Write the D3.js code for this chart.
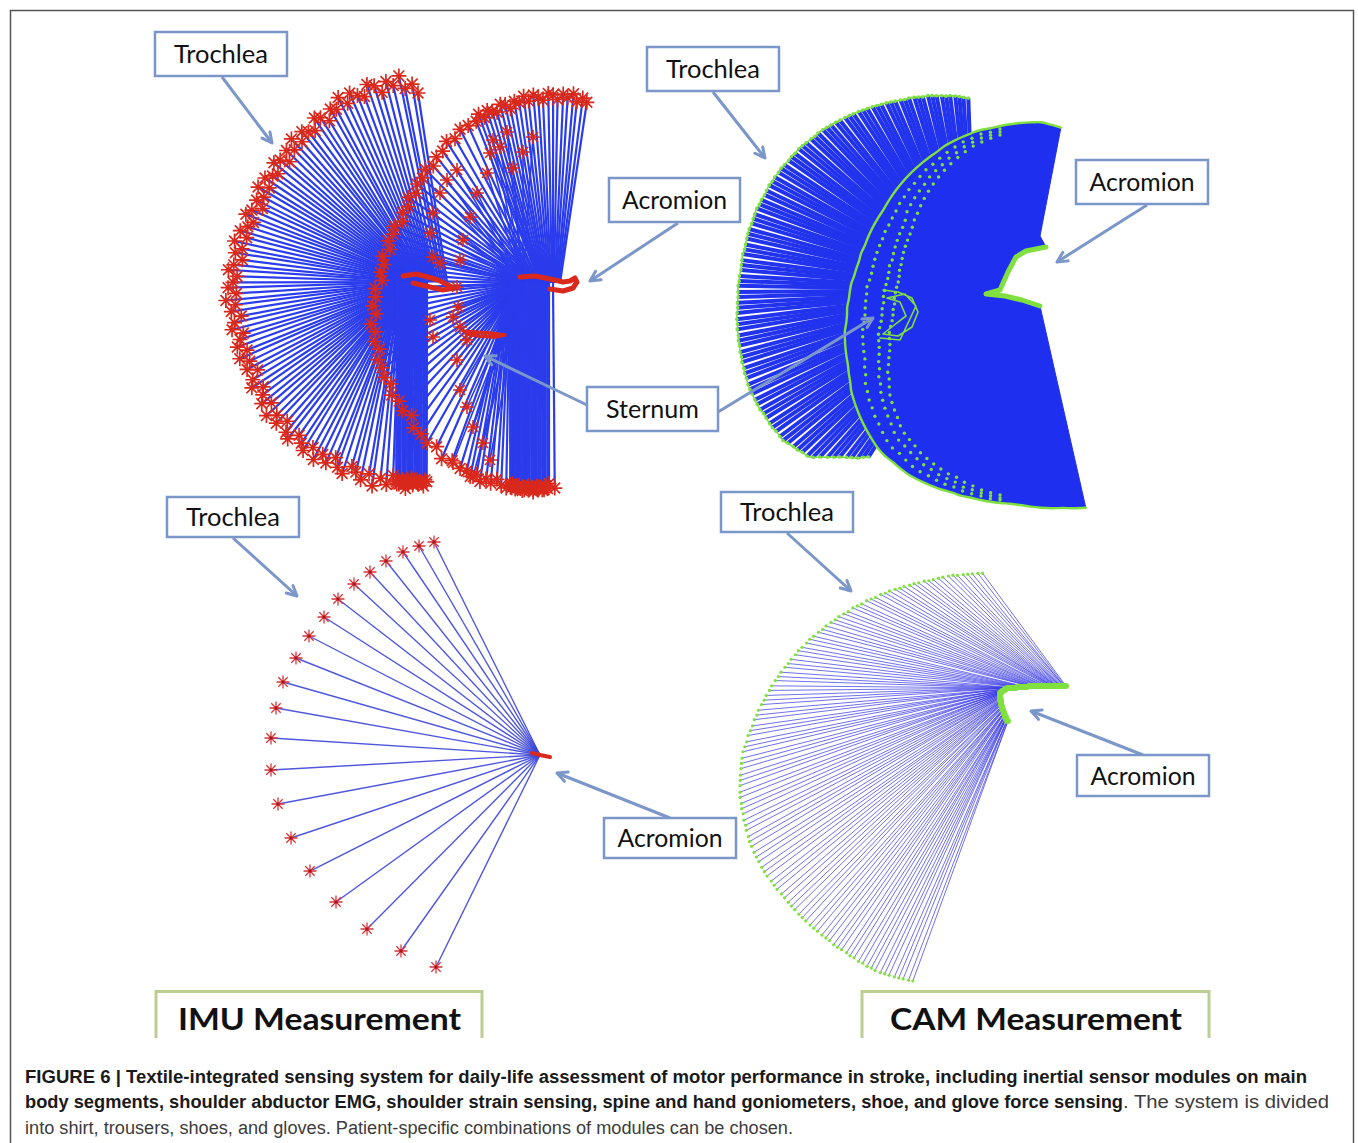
<!DOCTYPE html>
<html lang="en">
<head>
<meta charset="utf-8">
<title>Figure 6 - IMU vs CAM shoulder abduction</title>
<script src="https://d3js.org/d3.v7.min.js"></script>
<style>
  body { margin: 0; background: #fff; }
  svg { display: block; }
  .callout text { font-family: Lato, "Open Sans", sans-serif; font-size: 25px; fill: #111; }
  .measure text { font-family: Lato, sans-serif; font-weight: bold; font-size: 31px; fill: #111; }
  .caption { font-family: "Liberation Sans", Arial, sans-serif; font-size: 18px; }
</style>
</head>
<body>
<svg id="chart" width="1358" height="1143"></svg>
<script>
// ---------------- data (mm, relative to each fan's acromion, y up) ----------------

// bottom-left: IMU, one abduction sweep (trochlea positions)
const imuBelowX = [-106,-121,-137,-154,-170,-186,-202,-216,-231,-244,-257,-264,-269,-269,-262,-249,-230,-204,-173,-139,-104];
const imuBelowY = [213,209,203,194,183,171,156,138,119,97,73,47,17,-15,-49,-83,-116,-147,-174,-196,-212];
const imuBelowAcromX = [-8,-4,0,5,10];
const imuBelowAcromY = [2,1,0,-1,-2];

// bottom-right: camera, one sweep (trochlea angle/radius, acromion track)
const camBelowAngle = [92.0,93.2,94.7,95.9,97.1,98.6,99.8,101.0,102.5,103.7,
  105.1,106.3,107.5,109.0,110.2,111.4,112.9,114.1,115.3,116.8,
  118.0,119.2,120.7,121.9,123.1,124.6,125.8,127.0,128.5,129.7,
  131.1,132.3,133.5,135.0,136.2,137.4,138.9,140.1,141.3,142.8,
  144.0,145.2,146.7,147.9,149.1,150.6,151.8,153.0,154.5,155.7,
  157.1,158.3,159.5,161.0,162.2,163.4,164.9,166.1,167.3,168.8,
  170.0,171.2,172.7,173.9,175.1,176.6,177.8,179.0,180.5,181.7,
  183.1,184.3,185.5,187.0,188.2,189.4,190.9,192.1,193.3,194.8,
  196.0,197.2,198.7,199.9,201.1,202.6,203.8,205.0,206.5,207.7,
  209.1,210.3,211.5,213.0,214.2,215.4,216.9,218.1,219.3,220.8,
  222.0,223.2,224.7,225.9,227.1,228.6,229.8,231.0,232.5,233.7,
  235.1,236.3,237.5,239.0,240.2,241.4,242.9,244.1,245.3,246.8,
  248.0];
const camBelowRadius = [217,217,217,217,217,217,218,218,218,218,
  218,218,219,219,220,220,221,221,222,223,
  223,224,224,225,226,226,227,228,228,229,
  230,230,231,232,232,233,234,235,235,236,
  237,237,238,238,239,240,240,241,242,242,
  243,243,244,245,245,246,246,247,248,248,
  249,250,250,250,250,250,250,250,250,250,
  249,249,248,248,247,247,246,246,245,244,
  243,242,241,240,239,237,236,235,233,232,
  231,230,229,228,227,226,225,224,223,222,
  221,220,220,219,218,217,217,216,216,215,
  215,214,214,213,212,211,210,209,208,207,
  206];
const camBelowAcromX = [76,75,74,74,73,72,71,70,70,69,
  68,67,66,66,65,64,63,62,62,61,
  60,59,57,56,54,53,51,50,49,47,
  46,44,43,41,40,39,37,36,34,33,
  31,30,29,27,26,24,23,21,20,19,
  18,17,17,16,16,15,15,14,14,13,
  13,12,12,12,11,11,11,10,10,10,
  10,10,10,10,10,10,10,10,10,10,
  10,11,11,11,11,11,11,11,11,11,
  11,12,12,12,12,12,13,13,13,13,
  13,14,14,14,14,14,15,15,15,15,
  15,16,16,16,16,16,17,17,17,18,
  18];
const camBelowAcromY = [104,104,104,104,104,104,104,104,104,104,
  104,104,104,104,104,104,104,104,104,104,
  104,104,104,104,104,104,104,104,104,104,
  104,104,104,104,104,104,103,103,103,103,
  103,103,103,103,102,102,102,102,102,102,
  102,102,102,101,101,101,100,100,100,99,
  99,99,98,98,98,97,97,97,96,96,
  96,95,95,94,94,93,93,92,92,91,
  90,90,89,89,88,88,87,86,86,85,
  85,84,84,83,82,82,81,81,80,80,
  79,78,78,77,77,76,75,75,74,74,
  73,73,72,72,71,71,70,70,69,69,
  69];

// top-left: IMU, repetition A (left fan)
const imuAboveAAngle = [90.0,91.7,93.8,95.3,97.2,99.1,100.7,102.6,104.5,106.1,
  108.0,109.9,111.5,113.4,115.3,116.9,118.8,120.7,122.3,124.2,
  126.1,127.7,129.6,131.5,133.1,135.0,136.9,138.5,140.4,142.3,
  143.9,145.8,147.7,149.3,151.2,153.1,154.7,156.6,158.5,160.1,
  162.0,163.9,165.5,167.4,169.3,170.9,172.8,174.7,176.3,178.2,
  180.1,181.7,183.6,185.5,187.1,189.0,190.9,192.5,194.4,196.3,
  197.9,199.8,201.7,203.3,205.2,207.1,208.7,210.6,212.5,214.1,
  216.0,217.9,219.5,221.4,223.3,224.9,226.8,228.7,230.3,232.2,
  234.1,235.7,237.6,239.5,241.1,243.0,244.9,246.5,248.4,250.3,
  251.9,253.8,255.7,257.3,259.2,261.1,262.7,264.6,266.5,268.1,
  270.0,
  264,264.5,265,265.5,266,266.5,267,267.5,268,268.5,269,269.5,270,270.5,271,271.5,272,272.5,263.8,267.2];
const imuAboveARadius = [189,198,194,207,198,203,193,201,204,193,
  196,201,192,201,191,194,184,191,194,183,
  186,190,182,191,181,186,176,184,187,177,
  180,185,176,186,176,181,172,181,185,175,
  179,185,177,188,179,185,177,185,190,181,
  185,190,182,193,184,189,180,188,192,182,
  187,192,184,194,186,192,183,192,197,187,
  192,198,190,202,194,200,191,200,204,194,
  199,204,196,206,197,203,194,202,206,196,
  200,206,198,209,200,205,195,203,207,196,
  200,
  203,199,201,198,202,200,197,201,199,203,198,200,202,199,201,204,198,200,201,203];
const imuAboveAAcromX = [29,27,25,23,21,19,
  18,17,16,15,14,13,12,11,10,10,
  9,9,8,8,7,7,6,6,5,5,5,4,4,4,3,
  3,3,2,2,2,2,1,1,1,1,1,0,0,0,0,0,0,0,0,0,
  0,-1,-1,-1,-1,-2,-2,-2,-2,-3,-3,-3,-3,-4,-4,-4,-4,-5,-5,-5,
  -6,-6,-7,-7,-8,-8,-9,-9,-10,-10,-11,-11,-12,-12,-13,-13,-14,-14,-15,-15,
  -16,-16,-17,-17,-18,-18,-19,-19,-20,-20,
  -21,-19,-17,-16,-14,-12,-10,-9,-7,-5,-3,-2,0,2,3,5,7,9,-21,-10];

// top-left: IMU, repetition B (right fan)
const imuAboveBAngle = [74,75.5,77,78.5,80,81.5,83,84.5,86,87.5,89,90.5,92,93.5,95,96.5,98,99.5,101,102.5,104,105.5,107,108.5,110,
  113,116,119,122,125,128,131,134,137,140,143,146,149,152,155,158,161,164,167,170,
  173,176,179,182,185,188,191,194,197,200,203,206,209,212,215,218,221,224,227,230,
  233,236,239,242,245,248,
  250,251.5,253,254.5,256,257.5,259,260.5,262,263.5,265,266.5,268,269.5,271,272.5,274,275.5,
  263,263.5,264,264.5,265,265.5,266,266.5,267,267.5,268,268.5,269,269.5,270,270.5,271,271.5,272,272.5,273,273.5];
const imuAboveBRadius = [188,191,186,193,188,191,185,189,190,183,186,188,182,187,181,183,176,181,182,175,177,179,173,178,172,
  171,171,165,167,161,160,155,158,154,154,149,153,148,150,146,152,150,153,149,155,
  152,155,153,160,160,164,162,169,167,171,169,175,175,178,176,182,180,184,181,189,
  189,193,191,199,196,200,
  200,204,200,206,202,205,200,205,207,202,205,208,203,209,204,207,201,206,
  203,206,204,207,205,203,206,204,207,205,203,206,204,207,205,203,206,204,207,205,203,206];
const imuAboveBAcromX = [25,24,23,22,21,20,19,18,17,16,15,14,13,12,11,10,10,9,8,7,7,6,6,5,5,
  4,4,3,3,2,2,1,1,0,0,-1,-1,-2,-2,-3,-3,-4,-4,-5,-5,
  -6,-6,-7,-7,-8,-8,-9,-9,-10,-10,-11,-11,-12,-12,-13,-13,-14,-14,-15,-15,
  -16,-16,-17,-17,-18,-18,
  -25,-25,-25,-25,-25,-25,-25,-25,-25,-23,-18,-12,-7,-2,4,9,14,18,
  -25,-23,-21,-20,-18,-16,-14,-13,-11,-9,-7,-5,-4,-2,0,2,4,5,7,9,11,13];
const imuAboveBInnerX = [-42,-28,-2,-12,-22,-35,-45,-48,-58,-65,-72,-75,-78,-77,-75,-68,-78,-75,-68,-62,-52,-45,-82,-62,
  -78,-88,-95,-102,-105,-102,-95,-105,-102,-82];
const imuAboveBInnerY = [143,151,146,131,115,136,130,110,90,66,43,23,-4,-24,-44,-57,-77,-107,-124,-144,-160,-177,-180,-194,
  113,103,90,70,50,26,20,-37,-54,-34];
const imuAboveABlobX = [-15,-2,10,20,30,35,25,12,-5];
const imuAboveABlobY = [6,8,5,2,-3,-6,-8,-5,-1];
const imuAboveBBlobX = [-15,0,15,28,35,40,42,38,28,15];
const imuAboveBBlobY = [6,7,4,1,2,5,1,-5,-8,-6];
const imuAboveSternumX = [-72,-60,-45,-30,-40,-57,-69];
const imuAboveSternumY = [-48,-49,-50,-52,-54,-53,-51];

// top-right: camera, back repetition C (trochlea angle/radius)
const camAboveCAngle = [92.0,93.4,94.6,95.8,97.3,98.5,99.7,101.2,102.4,103.6,
  105.1,106.3,107.5,109.0,110.2,111.4,112.9,114.1,115.3,116.8,
  118.0,119.2,120.7,121.9,123.1,124.6,125.8,127.0,128.5,129.7,
  131.1,132.3,133.5,135.0,136.2,137.4,138.9,140.1,141.3,142.8,
  144.0,145.2,146.7,147.9,149.1,150.6,151.8,153.0,154.5,155.7,
  157.1,158.3,159.5,161.0,162.2,163.4,164.9,166.1,167.3,168.8,
  170.0,171.2,172.7,173.9,175.1,176.6,177.8,179.0,180.5,181.7,
  183.1,184.3,185.5,187.0,188.2,189.4,190.9,192.1,193.3,194.8,
  196.0,197.2,198.7,199.9,201.1,202.6,203.8,205.0,206.5,207.7,
  209.1,210.3,211.5,213.0,214.2,215.4,216.9,218.1,219.3,220.8,
  222.0,223.2,224.7,225.9,227.1,228.6,229.8,231.0,232.5,233.7,
  235.1,236.3,237.5];
const camAboveCRadius = [192,193,194,195,196,196,197,198,199,200,
  200,201,202,203,203,204,205,206,207,208,
  209,210,211,212,213,214,215,216,217,218,
  219,220,221,222,222,223,224,225,226,226,
  227,227,228,229,229,230,230,231,231,231,
  232,232,233,233,233,233,234,234,234,234,
  234,235,235,235,235,236,236,237,237,237,
  238,238,239,240,240,241,241,242,242,243,
  243,244,244,245,245,246,246,246,246,246,
  246,245,245,245,245,244,244,244,242,240,
  239,237,236,233,228,223,219,215,211,208,
  205,201,198];

// top-right: camera, front repetition D (outer trochlea arc + acromion hook)
const camAboveDAngle = [72,75,78,81,84,87,
  90,93,96,99,102,105,108,111,114,117,120,123,126,129,132,135,138,141,144,147,150,153,156,159,
  162,165,168,171,174,177,180,183,186,189,192,195,198,201,204,207,210,213,216,219,222,225,228,231,
  234,237,240,243,246,249,252,255,258,261,264,267,270,
  273,276,279,282,285,288,291,294];
const camAboveDRadius = [197,197,197,195,193,191,
  189,187,186,184,182,180,178,175,173,171,169,167,165,163,161,159,157,156,155,154,153,152,152,151,
  151,151,152,152,152,153,153,154,156,157,158,159,160,162,164,167,169,171,173,175,177,179,181,182,
  182,183,184,184,184,184,184,184,185,185,186,187,188,
  189,191,194,197,200,203,207,211];
const camAboveDAcromX = [40,22,5,-14,0,8,16,26,46,40];
const camAboveDAcromY = [9,15,19,21,25,43,58,64,68,79];

// top-right: other repetitions, dotted trochlea arcs
const camAboveArcAngle = [90,93,96,99,102,105,108,111,114,117,120,123,126,129,132,135,138,141,144,147,
  150,153,156,159,162,165,168,171,174,177,180,183,186,189,192,195,198,201,204,207,
  210,213,216,219,222,225,228,231,234,237,240,243,246,249,252,255,258,261,264,267,270];
const camAboveArc1 = [186,183,182,179,177,174,171,168,165,163,160,157,155,152,150,147,145,143,142,140,
  139,138,137,136,135,135,136,135,135,135,135,136,138,139,140,141,142,145,147,151,
  153,156,158,161,163,166,169,171,171,173,175,176,176,177,178,178,180,181,182,184,185];
const camAboveArc2 = [183,180,178,175,172,168,165,161,158,155,151,148,145,142,139,134,131,129,127,125,
  123,121,121,119,118,118,118,118,117,118,118,119,121,123,124,125,127,130,132,136,
  138,142,145,148,151,154,158,161,162,164,166,168,169,171,172,173,176,177,179,181,183];
const camAboveArc3 = [180,177,174,171,167,163,159,155,151,147,143,139,135,131,128,124,121,119,117,115,
  113,111,110,108,107,107,107,107,106,107,107,108,110,112,113,114,116,119,122,126,
  128,132,136,139,142,145,149,152,154,156,159,161,163,165,167,168,171,173,176,178,180];
const camAboveSternumX = [-117,-102,-88,-82,-88,-102,-117,-107,-94,-100,-113,-95,-84,-100,-120];
const camAboveSternumY = [25,23,17,3,-12,-21,-19,-11,-1,13,17,21,9,-25,-23];

// annotations
const calloutText = ["Trochlea","Trochlea","Acromion","Acromion","Sternum","Trochlea","Trochlea","Acromion","Acromion"];
const measureText = ["IMU Measurement", "CAM Measurement"];
const captionBold1 = "FIGURE 6 | Textile-integrated sensing system for daily-life assessment of motor performance in stroke, including inertial sensor modules on main";
const captionBold2 = "body segments, shoulder abductor EMG, shoulder strain sensing, spine and hand goniometers, shoe, and glove force sensing";
const captionPlain2 = ". The system is divided";
const captionPlain3 = "into shirt, trousers, shoes, and gloves. Patient-specific combinations of modules can be chosen.";

// ---------------- layout ----------------
const calloutLayout = [
  {box: [155,32,287,76],   arrows: [[222,77,272,143]]},
  {box: [647,47,779,91],   arrows: [[713,92,765,158]]},
  {box: [609,178,740,222], arrows: [[678,223,590,281]]},
  {box: [1076,160,1208,204], arrows: [[1147,205,1057,262]]},
  {box: [587,387,718,431], arrows: [[587,405,485,356],[718,412,873,318]]},
  {box: [167,497,299,537], arrows: [[233,538,297,596]]},
  {box: [721,492,853,532], arrows: [[787,533,851,591]]},
  {box: [604,818,736,858], arrows: [[670,818,557,773]]},
  {box: [1077,755,1209,796], arrows: [[1143,755,1031,711]]}
];
const wordWidth = {Trochlea: 94, Acromion: 105, Sternum: 93};

const svg = d3.select("#chart");

function fanScales(cx, cy) {
  return {
    x: d3.scaleLinear().domain([-300, 300]).range([cx - 300, cx + 300]),
    y: d3.scaleLinear().domain([-300, 300]).range([cy + 300, cy - 300])
  };
}
const sA = fanScales(418, 282), sB = fanScales(535, 283),
      sC = fanScales(975, 290), sD = fanScales(1000, 315),
      sBL = fanScales(540, 755), sBR = fanScales(990, 790);

const toRad = Math.PI / 180;
function buildRays(angle, radius, acrX, acrY) {
  return angle.map((a, i) => ({
    tx: radius[i] * Math.cos(a * toRad),
    ty: radius[i] * Math.sin(a * toRad),
    ax: Array.isArray(acrX) ? acrX[i] : (acrX || 0),
    ay: Array.isArray(acrY) ? acrY[i] : (acrY || 0)
  }));
}
function xyRays(xs, ys, acrX, acrY) {
  return xs.map((x, i) => ({tx: x, ty: ys[i], ax: acrX || 0, ay: acrY || 0}));
}
function drawRays(s, rays, color, width, opacity) {
  svg.append("g").selectAll("line").data(rays).join("line")
    .attr("x1", d => s.x(d.ax)).attr("y1", d => s.y(d.ay))
    .attr("x2", d => s.x(d.tx)).attr("y2", d => s.y(d.ty))
    .attr("stroke", color).attr("stroke-width", width)
    .attr("stroke-opacity", opacity);
}
function starPath(x, y, r) {
  const q = r * 0.72;
  return `M${x - r},${y}H${x + r}M${x},${y - r}V${y + r}` +
         `M${x - q},${y - q}L${x + q},${y + q}M${x - q},${y + q}L${x + q},${y - q}`;
}
function drawStars(s, pts, r, color, width) {
  svg.append("g").selectAll("path").data(pts).join("path")
    .attr("d", d => starPath(s.x(d.tx), s.y(d.ty), r))
    .attr("fill", "none").attr("stroke", color).attr("stroke-width", width);
}
function drawDots(s, pts, r, color) {
  svg.append("g").selectAll("circle").data(pts).join("circle")
    .attr("cx", d => s.x(d.tx)).attr("cy", d => s.y(d.ty))
    .attr("r", r).attr("fill", color);
}
function drawTrack(s, pts, color, width, curve) {
  const line = d3.line().x(d => s.x(d[0])).y(d => s.y(d[1])).curve(curve || d3.curveLinear);
  svg.append("path").attr("d", line(pts))
    .attr("fill", "none").attr("stroke", color).attr("stroke-width", width)
    .attr("stroke-linecap", "round").attr("stroke-linejoin", "round");
}

const RED = "#d9281c", GREEN = "#80e040", BLUE = "#2a3cec";

// frame
svg.append("path").attr("d", "M10.5,1143V10.5H1353.5V1143")
  .attr("fill", "none").attr("stroke", "#555").attr("stroke-width", 1.5);

// ---- top-left (IMU, two repetitions) ----
const raysA = buildRays(imuAboveAAngle, imuAboveARadius, imuAboveAAcromX, 0);
const raysB = buildRays(imuAboveBAngle, imuAboveBRadius, imuAboveBAcromX, 0);
const raysBInner = xyRays(imuAboveBInnerX, imuAboveBInnerY, -12, 0);
drawRays(sB, raysB, BLUE, 2.2, 1);
drawRays(sB, raysBInner, BLUE, 1.6, 1);
drawRays(sA, raysA, BLUE, 2.2, 1);
drawStars(sB, raysB, 7.5, RED, 1.7);
drawStars(sB, raysBInner, 7, RED, 1.6);
drawStars(sA, raysA, 7.5, RED, 1.7);
drawTrack(sA, d3.zip(imuAboveABlobX, imuAboveABlobY), RED, 5);
drawTrack(sB, d3.zip(imuAboveBBlobX, imuAboveBBlobY), RED, 5);
drawTrack(sB, d3.zip(imuAboveSternumX, imuAboveSternumY), RED, 3.5);

// ---- top-right (camera) ----
const raysC = buildRays(camAboveCAngle, camAboveCRadius, 0, 0);
drawRays(sC, raysC, "#2233ee", 4, 1);
drawTrack(sC, raysC.map(d => [d.tx, d.ty]), GREEN, 1.6, d3.curveCatmullRom);
drawDots(sC, raysC, 1.8, GREEN);

const dOuter = buildRays(camAboveDAngle, camAboveDRadius, 0, 0).map(d => [d.tx, d.ty]);
const dHook = d3.zip(camAboveDAcromX, camAboveDAcromY);
svg.append("path")
  .attr("d", d3.line().x(d => sD.x(d[0])).y(d => sD.y(d[1])).curve(d3.curveLinearClosed)(dOuter.concat(dHook)))
  .attr("fill", "#1f2ff0").attr("stroke", "#1f2ff0").attr("stroke-width", 1);
drawTrack(sD, dOuter, GREEN, 2.4, d3.curveCatmullRom);
[camAboveArc1, camAboveArc2, camAboveArc3].forEach(r => {
  drawDots(sD, buildRays(camAboveArcAngle, r, 0, 0), 1.7, GREEN);
});
drawTrack(sD, dHook.slice(0, 9), GREEN, 5);
drawTrack(sD, d3.zip(camAboveSternumX, camAboveSternumY), GREEN, 1.6);

// ---- bottom-left (IMU) ----
const raysBL = xyRays(imuBelowX, imuBelowY, 0, 0);
drawRays(sBL, raysBL, "#3b45d8", 1.4, 0.9);
drawStars(sBL, raysBL, 6.5, "#d4363a", 1.3);
drawDots(sBL, raysBL, 1.5, "#a8161c");
drawTrack(sBL, d3.zip(imuBelowAcromX, imuBelowAcromY), RED, 4);

// ---- bottom-right (camera) ----
const raysBR = buildRays(camBelowAngle, camBelowRadius, camBelowAcromX, camBelowAcromY);
drawRays(sBR, raysBR, "#3a3ae6", 1, 0.72);
drawDots(sBR, raysBR, 1.6, GREEN);
drawTrack(sBR, d3.zip(camBelowAcromX, camBelowAcromY), GREEN, 6);

// ---- callouts ----
const ARROW = "#7b96c9";
svg.append("defs").append("marker").attr("id", "head")
  .attr("viewBox", "0 0 14 14").attr("refX", 12).attr("refY", 7)
  .attr("markerWidth", 14).attr("markerHeight", 14)
  .attr("markerUnits", "userSpaceOnUse").attr("orient", "auto")
  .append("path").attr("d", "M2,2L12,7L2,12")
  .attr("fill", "none").attr("stroke", ARROW).attr("stroke-width", 3)
  .attr("stroke-linecap", "round").attr("stroke-linejoin", "round");

const callouts = svg.append("g").attr("class", "callout");
calloutLayout.forEach((c, i) => {
  c.arrows.forEach(a => {
    callouts.append("line").attr("x1", a[0]).attr("y1", a[1]).attr("x2", a[2]).attr("y2", a[3])
      .attr("stroke", ARROW).attr("stroke-width", 3).attr("marker-end", "url(#head)");
  });
  const [x0, y0, x1, y1] = c.box;
  callouts.append("rect").attr("x", x0).attr("y", y0).attr("width", x1 - x0).attr("height", y1 - y0)
    .attr("fill", "#fff").attr("stroke", ARROW).attr("stroke-width", 2.5);
  const w = wordWidth[calloutText[i]];
  callouts.append("text").attr("x", (x0 + x1) / 2 - w / 2).attr("y", (y0 + y1) / 2 + 9)
    .attr("textLength", w).attr("lengthAdjust", "spacingAndGlyphs").text(calloutText[i]);
});

// ---- measurement tabs ----
const measureLayout = [{x0: 156, x1: 482, tx: 178, tw: 283}, {x0: 862, x1: 1209, tx: 890, tw: 292}];
const meas = svg.append("g").attr("class", "measure");
measureLayout.forEach((m, i) => {
  meas.append("path").attr("d", `M${m.x0},1038V991.5H${m.x1}V1038`)
    .attr("fill", "none").attr("stroke", "#bccf92").attr("stroke-width", 3);
  meas.append("text").attr("x", m.tx).attr("y", 1030)
    .attr("textLength", m.tw).attr("lengthAdjust", "spacingAndGlyphs").text(measureText[i]);
});

// ---- caption ----
function capText(str, x, y, len, bold) {
  svg.append("text").attr("class", "caption").attr("x", x).attr("y", y)
    .attr("textLength", len).attr("lengthAdjust", "spacingAndGlyphs")
    .attr("font-weight", bold ? "bold" : "normal")
    .attr("fill", bold ? "#1a1a1a" : "#3c3c3c").text(str);
}
capText(captionBold1, 25, 1083, 1282, true);
capText(captionBold2, 25, 1108, 1098, true);
capText(captionPlain2, 1123, 1108, 206, false);
capText(captionPlain3, 25, 1134, 768, false);
</script>
</body>
</html>
